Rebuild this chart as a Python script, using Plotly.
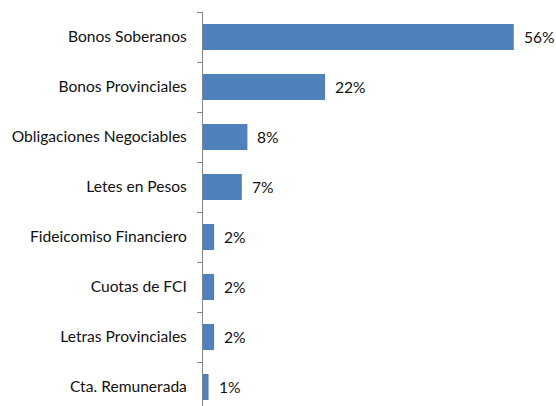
import plotly.graph_objects as go

categorias = [
    "Bonos Soberanos",
    "Bonos Provinciales",
    "Obligaciones Negociables",
    "Letes en Pesos",
    "Fideicomiso Financiero",
    "Cuotas de FCI",
    "Letras Provinciales",
    "Cta. Remunerada",
]
porcentajes = [56, 22, 8, 7, 2, 2, 2, 1]
etiquetas = [f"{v}%" for v in porcentajes]

FUENTE = dict(family="Lato", size=15.6, color="#111111")

fig = go.Figure(
    go.Bar(
        x=porcentajes,
        y=categorias,
        orientation="h",
        marker=dict(color="#4F81BD", line=dict(width=0)),
        hoverinfo="skip",
    )
)

# value labels to the right of each bar
for cat, val, txt in zip(categorias, porcentajes, etiquetas):
    fig.add_annotation(
        x=val,
        y=cat,
        text=txt,
        showarrow=False,
        xanchor="left",
        yanchor="middle",
        xshift=8,
        font=FUENTE,
    )

fig.update_layout(
    width=556,
    height=406,
    margin=dict(l=203, r=20, t=12, b=0),
    paper_bgcolor="white",
    plot_bgcolor="white",
    bargap=0.48,
    showlegend=False,
    font=FUENTE,
)

fig.update_xaxes(
    range=[0, 60],
    visible=False,
    showgrid=False,
    zeroline=False,
)

fig.update_yaxes(
    type="category",
    range=[7.38, -0.5],
    showline=True,
    linecolor="#868686",
    linewidth=1,
    ticks="outside",
    tickson="boundaries",
    ticklen=5,
    tickcolor="#868686",
    showgrid=False,
    ticklabelstandoff=12,
    tickfont=FUENTE,
)

fig.write_html("out.html")
